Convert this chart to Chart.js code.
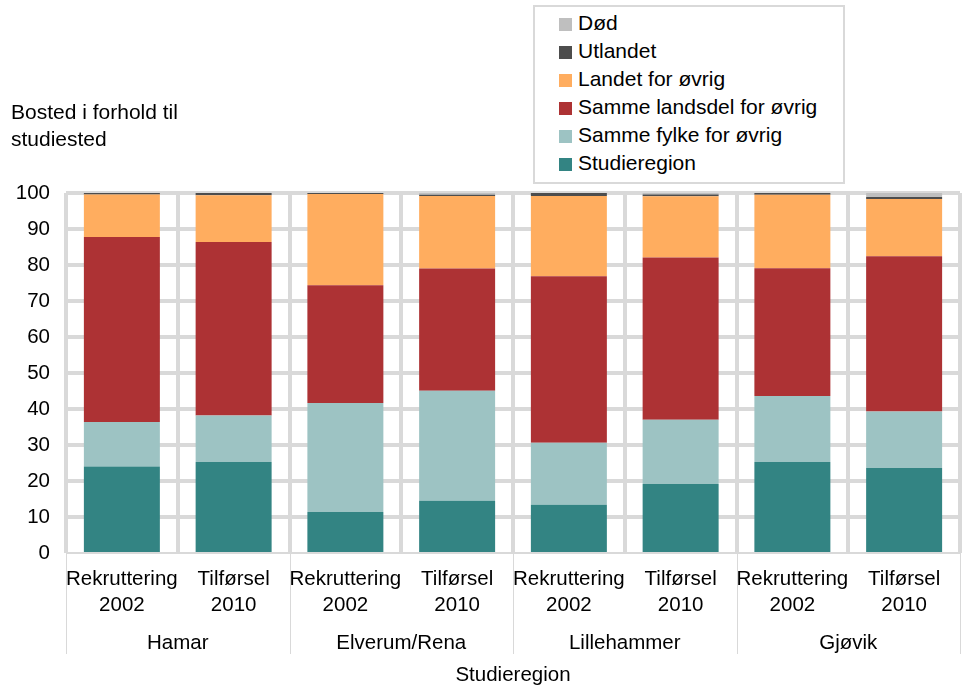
<!DOCTYPE html>
<html lang="no">
<head>
<meta charset="utf-8">
<title>Bosted i forhold til studiested</title>
<script src="https://cdn.jsdelivr.net/npm/chart.js@4"></script>
<style>
    body { margin: 0; background: #fff; }
    #wrap { position: relative; width: 965px; height: 686px; font-family: 'Liberation Sans', Arial, sans-serif; color: #000; }
    #chart { position: absolute; left: 0; top: 0; }
    #ytitle { position: absolute; left: 11px; top: 98px; font-size: 21px; line-height: 27px; }
    #legend { position: absolute; left: 533px; top: 5px; width: 308px; height: 175px; border: 2px solid #d9d9d9; background: #fff; }
    #legend .item { position: absolute; left: 24px; height: 28px; line-height: 28px; font-size: 21px; white-space: nowrap; }
    #legend .box { display: inline-block; width: 13px; height: 13px; margin-right: 6px; vertical-align: -1px; }
</style>
</head>
<body>
<div id="wrap">
    <canvas id="chart" width="965" height="686"></canvas>
    <div id="ytitle">Bosted i forhold til<br>studiested</div>
    <div id="legend"></div>
</div>
<script>
// Kategorier
const periods = [['Rekruttering', '2002'], ['Tilførsel', '2010']];
const regions = ['Hamar', 'Elverum/Rena', 'Lillehammer', 'Gjøvik'];
const yTicks = [0, 10, 20, 30, 40, 50, 60, 70, 80, 90, 100];

// Andeler i prosent, en verdi per søyle
const studieregion = [24.0, 25.3, 11.4, 14.5, 13.4, 19.2, 25.3, 23.6];
const sammeFylke = [12.4, 12.9, 30.3, 30.6, 17.2, 17.8, 18.3, 15.7];
const sammeLandsdel = [51.4, 48.2, 32.7, 33.9, 46.3, 45.1, 35.5, 43.1];
const landetForovrig = [11.8, 13.0, 25.3, 20.2, 22.3, 17.0, 20.4, 15.9];
const utlandet = [0.4, 0.6, 0.3, 0.3, 0.8, 0.5, 0.5, 0.6];
const dod = [0, 0, 0, 0.5, 0, 0.4, 0, 1.1];

const labels = regions.flatMap(() => periods);
const font = { family: "'Liberation Sans', Arial, sans-serif", size: 20.5 };

Chart.defaults.color = '#000';
Chart.defaults.font = font;

// Skillelinjer mellom regionene under x-aksen
const groupLines = {
    id: 'groupLines',
    afterDraw(chart) {
        const x = chart.scales.x;
        const g = chart.scales.group;
        const ctx = chart.ctx;
        ctx.save();
        ctx.strokeStyle = '#d9d9d9';
        ctx.lineWidth = 1;
        for (let i = 0; i <= regions.length; i++) {
            const px = Math.round(x.getPixelForValue(i * periods.length - 0.5)) + 0.5;
            ctx.beginPath();
            ctx.moveTo(px, chart.chartArea.bottom);
            ctx.lineTo(px, g.top + 31);
            ctx.stroke();
        }
        ctx.restore();
    }
};

const chart = new Chart(document.getElementById('chart'), {
    type: 'bar',
    data: {
        labels: labels,
        datasets: [
            { label: 'Studieregion', data: studieregion, backgroundColor: '#338483' },
            { label: 'Samme fylke for øvrig', data: sammeFylke, backgroundColor: '#9dc3c3' },
            { label: 'Samme landsdel for øvrig', data: sammeLandsdel, backgroundColor: '#ad3234' },
            { label: 'Landet for øvrig', data: landetForovrig, backgroundColor: '#ffad5f' },
            { label: 'Utlandet', data: utlandet, backgroundColor: '#4d4d4d' },
            { label: 'Død', data: dod, backgroundColor: '#bfbfbf' }
        ]
    },
    options: {
        responsive: false,
        animation: false,
        devicePixelRatio: 1,
        layout: { padding: { top: 193, right: 5, left: 0, bottom: 0 } },
        datasets: { bar: { barPercentage: 0.68, categoryPercentage: 1 } },
        plugins: { legend: { display: false }, tooltip: { enabled: false } },
        scales: {
            x: {
                stacked: true,
                offset: true,
                weight: 0,
                grid: { offset: true, color: '#d9d9d9', lineWidth: 4, drawTicks: false },
                border: { display: false },
                ticks: { padding: 13, font: { ...font, lineHeight: 1.27 }, maxRotation: 0, autoSkip: false },
                afterFit: s => { s.height = 70; }
            },
            group: {
                type: 'category',
                labels: regions,
                position: 'bottom',
                offset: true,
                weight: 1,
                grid: { display: false, drawTicks: false },
                border: { display: false },
                ticks: { padding: 7, font: { ...font, lineHeight: 1.27 } },
                title: { display: true, text: 'Studieregion', font: { ...font, lineHeight: 1 }, padding: 0 },
                afterFit: s => { s.height = 63; }
            },
            y: {
                stacked: true,
                min: 0,
                max: 100,
                afterBuildTicks: s => { s.ticks = yTicks.map(v => ({ value: v })); },
                grid: {
                    color: '#d9d9d9',
                    lineWidth: c => (c.tick && c.tick.value === 0 ? 2 : 4),
                    drawTicks: false
                },
                border: { display: false },
                ticks: { padding: 16, font: font },
                afterFit: s => { s.width = 66; }
            }
        }
    },
    plugins: [groupLines]
});

// Egen tegnforklaring, øverste serie først
const legend = document.getElementById('legend');
chart.data.datasets.slice().reverse().forEach((ds, i) => {
    const item = document.createElement('div');
    item.className = 'item';
    item.style.top = (2 + i * 28) + 'px';
    item.innerHTML = '<span class="box" style="background:' + ds.backgroundColor + '"></span>' + ds.label;
    legend.appendChild(item);
});
</script>
</body>
</html>
